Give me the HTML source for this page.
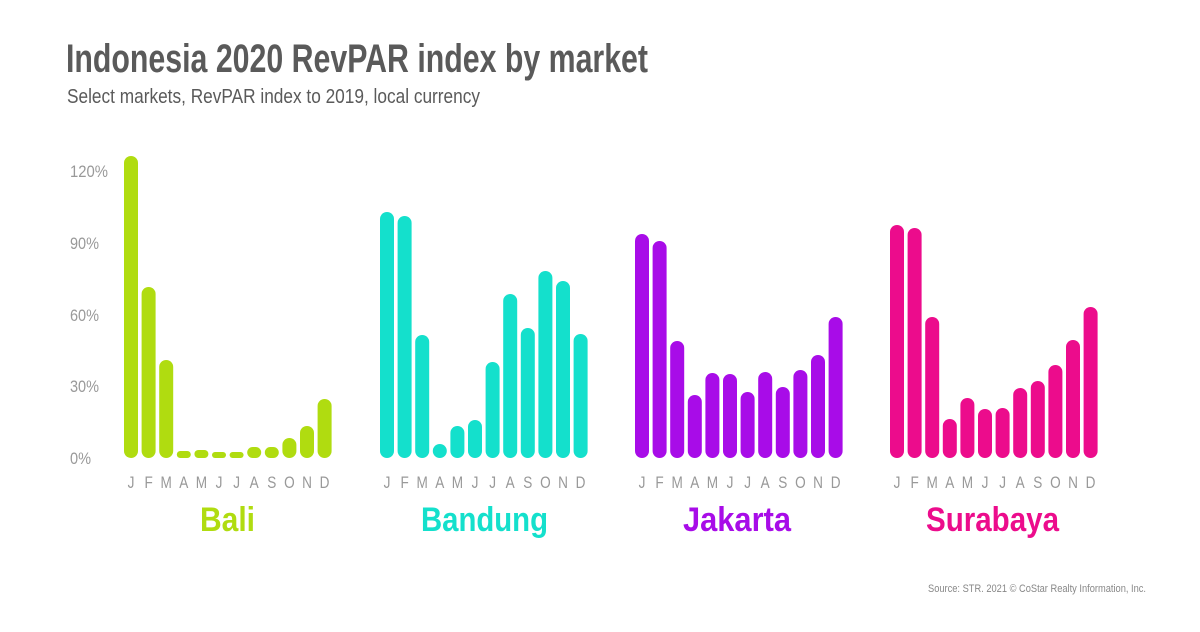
<!DOCTYPE html>
<html><head><meta charset="utf-8"><style>
html,body{margin:0;padding:0;background:#fff}
svg text{font-family:"Liberation Sans Narrow","Liberation Sans",sans-serif}
</style></head><body>
<svg width="1200" height="627" viewBox="0 0 1200 627" xmlns="http://www.w3.org/2000/svg">
<rect width="1200" height="627" fill="#fff"/>
<text x="66" y="72" font-size="40" fill="#5a5a5a" font-weight="bold" textLength="582" lengthAdjust="spacingAndGlyphs">Indonesia 2020 RevPAR index by market</text>
<text x="67" y="103" font-size="20" fill="#5a5a5a" textLength="413" lengthAdjust="spacingAndGlyphs">Select markets, RevPAR index to 2019, local currency</text>
<g font-size="17" fill="#999">
<text x="70" y="177" textLength="38" lengthAdjust="spacingAndGlyphs">120%</text>
<text x="70" y="249" textLength="29" lengthAdjust="spacingAndGlyphs">90%</text>
<text x="70" y="321" textLength="29" lengthAdjust="spacingAndGlyphs">60%</text>
<text x="70" y="392" textLength="29" lengthAdjust="spacingAndGlyphs">30%</text>
<text x="70" y="464" textLength="21" lengthAdjust="spacingAndGlyphs">0%</text>
</g>
<g id="bars"></g>
<g id="labels" font-size="17" fill="#999" text-anchor="middle"></g>
<g font-size="34" font-weight="bold">
<text x="200" y="531" fill="#b0dc10" textLength="55" lengthAdjust="spacingAndGlyphs">Bali</text>
<text x="421" y="531" fill="#14e0cc" textLength="127" lengthAdjust="spacingAndGlyphs">Bandung</text>
<text x="683" y="531" fill="#a80ce8" textLength="108" lengthAdjust="spacingAndGlyphs">Jakarta</text>
<text x="926" y="531" fill="#ec0c8c" textLength="133" lengthAdjust="spacingAndGlyphs">Surabaya</text>
</g>
<text x="928" y="592" font-size="11" fill="#888" textLength="218" lengthAdjust="spacingAndGlyphs">Source: STR. 2021 © CoStar Realty Information, Inc.</text>
<script>
var data=[
 [131,"#b0dc10",[156,287,360,451,450,452,452,447,447,438,426,399]],
 [387,"#14e0cc",[212,216,335,444,426,420,362,294,328,271,281,334]],
 [642,"#a80ce8",[234,241,341,395,373,374,392,372,387,370,355,317]],
 [897,"#ec0c8c",[225,228,317,419,398,409,408,388,381,365,340,307]]];
var m="JFMAMJJASOND",ns="http://www.w3.org/2000/svg",b=document.getElementById("bars"),l=document.getElementById("labels");
data.forEach(function(d){for(var i=0;i<12;i++){var cx=d[0]+i*17.6,r=document.createElementNS(ns,"rect");
var h=458-d[2][i];
r.setAttribute("x",cx-7);r.setAttribute("y",d[2][i]);r.setAttribute("width",14);r.setAttribute("height",h);
r.setAttribute("rx",Math.min(7,h/2));r.setAttribute("fill",d[1]);b.appendChild(r);
var t=document.createElementNS(ns,"text");t.setAttribute("x",cx);t.setAttribute("y",488);t.setAttribute("transform","translate("+cx+",0) scale(0.8,1) translate("+(-cx)+",0)");t.textContent=m[i];l.appendChild(t);}});
</script>
</svg>
</body></html>
